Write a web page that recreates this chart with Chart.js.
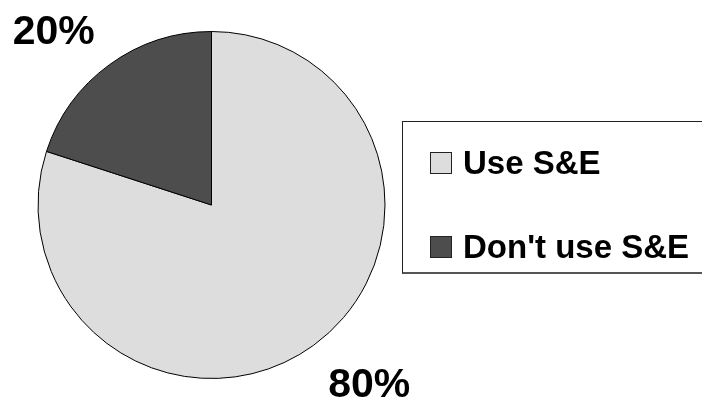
<!DOCTYPE html>
<html>
<head>
<meta charset="utf-8">
<script src="https://cdn.jsdelivr.net/npm/chart.js@4/dist/chart.umd.min.js"></script>
<style>
    body { margin: 0; background: #fff; overflow: hidden; }
    #wrap { position: relative; width: 702px; height: 401px; }
    #pie { position: absolute; left: 0; top: 0; }
    #legend {
        position: absolute; left: 402px; top: 121px; width: 320px; height: 150px;
        border: 1px solid #222; border-bottom: 2px solid #555;
        font-family: "Liberation Sans", Arial, sans-serif; font-weight: bold; font-size: 33px;
    }
    .item { position: absolute; left: 27px; display: flex; align-items: center; white-space: nowrap; }
    .swatch { width: 22px; height: 22px; border: 1px solid #222; margin-right: 11px; box-sizing: border-box; }
</style>
</head>
<body>
<div id="wrap">
    <canvas id="pie" width="702" height="401"></canvas>
    <div id="legend"></div>
</div>
<script>
const categories = ['Use S&E', "Don't use S&E"];
const shares = [80, 20];
const sliceColors = ['#dddddd', '#4d4d4d'];

// percentage labels outside the pie, corner touching the mid-angle ray
const outsideLabels = {
    id: 'outsideLabels',
    afterDatasetsDraw(chart) {
        const ctx = chart.ctx;
        const total = shares.reduce((a, b) => a + b, 0);
        const arcs = chart.getDatasetMeta(0).data;
        ctx.save();
        ctx.font = 'bold 41px "Liberation Sans", Arial, sans-serif';
        ctx.fillStyle = '#000';
        ctx.textBaseline = 'alphabetic';
        arcs.forEach((arc, i) => {
            const p = arc.getProps(['x', 'y', 'startAngle', 'endAngle', 'outerRadius'], true);
            const mid = (p.startAngle + p.endAngle) / 2;
            const dist = p.outerRadius + 25;
            const px = p.x + Math.cos(mid) * dist;
            const py = p.y + Math.sin(mid) * dist;
            ctx.textAlign = Math.cos(mid) < 0 ? 'right' : 'left';
            const y = Math.sin(mid) < 0 ? py : py + 31;
            ctx.fillText(Math.round(shares[i] / total * 100) + '%', px, y);
        });
        ctx.restore();
    }
};

const chart = new Chart(document.getElementById('pie'), {
    type: 'pie',
    data: {
        labels: categories,
        datasets: [{
            data: shares,
            backgroundColor: sliceColors,
            borderColor: '#000',
            borderWidth: 1,
            hoverOffset: 0
        }]
    },
    options: {
        responsive: false,
        animation: false,
        devicePixelRatio: 1,
        layout: { padding: { left: 37.5, right: 316.5, top: 31, bottom: 22 } },
        plugins: {
            legend: { display: false },
            tooltip: { enabled: false }
        }
    },
    plugins: [outsideLabels]
});

const legend = document.getElementById('legend');
categories.forEach((name, i) => {
    const item = document.createElement('div');
    item.className = 'item';
    item.style.top = (i === 0 ? 22 : 106) + 'px';
    item.innerHTML = `<span class="swatch" style="background:${sliceColors[i]}"></span><span>${name}</span>`;
    legend.appendChild(item);
});
</script>
</body>
</html>
